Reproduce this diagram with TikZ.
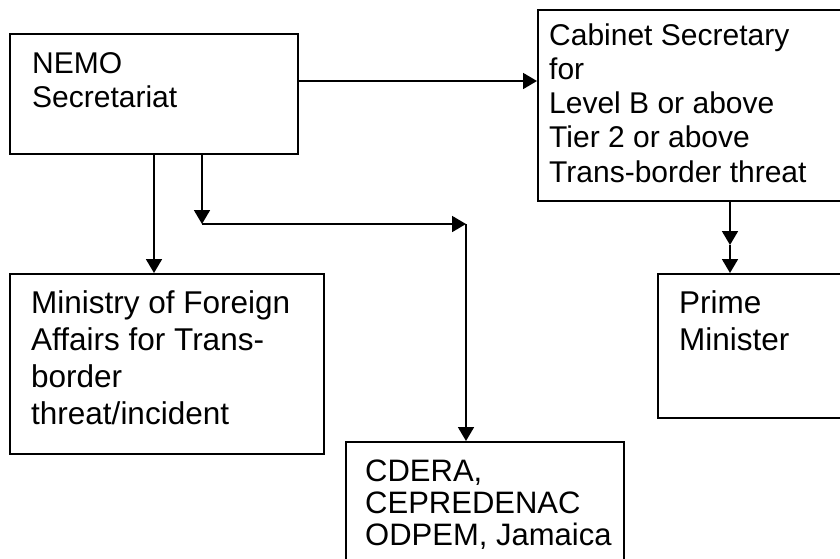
\documentclass[tikz,border=0pt]{standalone}
\usepackage{fontspec}
\setmainfont{Liberation Sans}
\usetikzlibrary{arrows.meta}
\newcommand\mltext[2]{\vtop{\baselineskip=#1\lineskiplimit=-100pt\halign{##\hfil\cr#2\crcr}}}
\tikzset{
  box/.style={draw=black, line width=1.8pt, rectangle, inner sep=0pt, anchor=north west},
  txt/.style={anchor=base west, inner sep=0pt, font=\fontsize{30pt}{34pt}\selectfont},
  txtb/.style={txt, font=\fontsize{31.5pt}{37pt}\selectfont},
  arr/.style={line width=1.8pt, -{Triangle[length=14pt,width=16pt]}}
}
\begin{document}
\begin{tikzpicture}[x=1pt,y=-1pt]
\useasboundingbox (0,0) rectangle (840,558);
\clip (0,0) rectangle (840,558);
\fill[white] (0,0) rectangle (840,558);
% boxes
\node[box, minimum width=288pt, minimum height=120pt] (nemo) at (9,33) {};
\node[box, minimum width=320pt, minimum height=191pt] (cab) at (537,9) {};
\node[box, minimum width=314pt, minimum height=180pt] (mfa) at (9,273) {};
\node[box, minimum width=200pt, minimum height=144pt] (pm) at (657,273) {};
\node[box, minimum width=278pt, minimum height=140pt] (cdera) at (345,441) {};
% texts
\node[txt] (nemoT) at (32,73) {\mltext{34pt}{NEMO\cr Secretariat}};
\node[txt] (cabT) at (549,45) {\mltext{34.25pt}{Cabinet Secretary\cr for\cr Level B or above\cr Tier 2 or above\cr Trans-border threat}};
\node[txtb] (mfaT) at (31,313) {\mltext{37pt}{Ministry of Foreign\cr Affairs for Trans-\cr border\cr threat/incident}};
\node[txtb] (pmT) at (679,313) {\mltext{37pt}{Prime\cr Minister}};
\node[txt, font=\fontsize{31pt}{32pt}\selectfont] (cderaT) at (365,481) {\mltext{32pt}{CDERA,\cr CEPREDENAC\cr ODPEM, Jamaica}};
% connectors
\coordinate (h1) at (297,81);
\draw[arr] (h1) -- (cab.west |- h1);
\coordinate (v1) at (154,153);
\draw[arr] (nemo.south -| v1) -- (mfa.north -| v1);
\coordinate (j1) at (202,224);
\coordinate (j2) at (466,224);
\draw[arr] (nemo.south -| j1) -- (j1);
\draw[arr] (j1) -- (j2);
\draw[arr] (j2) -- (cdera.north -| j2);
\coordinate (m1) at (730,245);
\draw[arr] (cab.south -| m1) -- (m1);
\draw[arr] (m1) -- (pm.north -| m1);
\end{tikzpicture}
\end{document}
